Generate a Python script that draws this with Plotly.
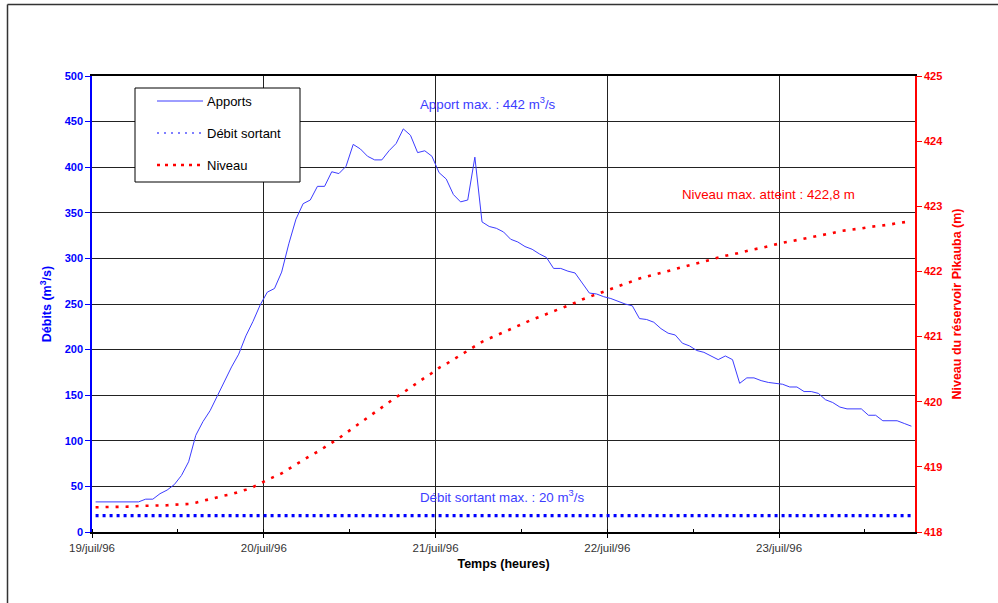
import pandas as pd
import plotly.graph_objects as go

# ---------------- data ----------------
start_time = "1996-07-19 00:30"
n_hours = 115
times = pd.date_range(start_time, periods=n_hours, freq="h")

apports = [
    33, 33, 33, 33, 33, 33, 33, 36, 36, 42,
    46, 52, 62, 77, 106, 121, 133, 149, 165, 181,
    195, 215, 231, 249, 263, 267, 285, 316, 343, 360,
    364, 379, 379, 395, 393, 401, 425, 420, 412, 408,
    408, 418, 426, 442, 435, 416, 418, 412, 394, 387,
    370, 362, 364, 411, 340, 335, 333, 329, 321, 318,
    313, 310, 305, 301, 289, 289, 286, 284, 273, 262,
    261, 258, 256, 253, 250, 248, 234, 233, 230, 223,
    218, 216, 207, 204, 199, 197, 193, 189, 193, 189,
    163, 169, 169, 166, 164, 163, 162, 159, 159, 154,
    154, 152, 145, 142, 137, 135, 135, 135, 128, 128,
    122, 122, 122, 119, 116,
]

debit_sortant_value = 18
debit_sortant = [debit_sortant_value] * n_hours

niveau = [
    418.38, 418.38, 418.38, 418.39, 418.39, 418.39, 418.40, 418.40, 418.40, 418.41,
    418.41, 418.42, 418.42, 418.43, 418.45, 418.48, 418.51, 418.54, 418.56, 418.58,
    418.61, 418.65, 418.69, 418.75, 418.80, 418.85, 418.90, 418.97, 419.04, 419.10,
    419.17, 419.23, 419.30, 419.36, 419.44, 419.52, 419.60, 419.67, 419.75, 419.84,
    419.92, 419.99, 420.07, 420.14, 420.22, 420.29, 420.37, 420.44, 420.52, 420.58,
    420.65, 420.72, 420.79, 420.86, 420.92, 420.97, 421.02, 421.07, 421.12, 421.17,
    421.22, 421.26, 421.30, 421.35, 421.39, 421.43, 421.47, 421.52, 421.57, 421.61,
    421.66, 421.70, 421.74, 421.78, 421.82, 421.85, 421.89, 421.92, 421.95, 421.98,
    422.01, 422.04, 422.07, 422.10, 422.13, 422.15, 422.18, 422.21, 422.24, 422.26,
    422.29, 422.31, 422.34, 422.36, 422.39, 422.41, 422.44, 422.46, 422.48, 422.51,
    422.53, 422.55, 422.57, 422.59, 422.62, 422.63, 422.65, 422.66, 422.68, 422.69,
    422.71, 422.72, 422.74, 422.75, 422.77,
]

day_ticks = ["1996-07-19", "1996-07-20", "1996-07-21", "1996-07-22", "1996-07-23"]
day_labels = ["19/juil/96", "20/juil/96", "21/juil/96", "22/juil/96", "23/juil/96"]
x_range = ["1996-07-19 00:00", "1996-07-23 19:00"]

legend_names = ["Apports", "Débit sortant", "Niveau"]

# ---------------- styles ----------------
FONT = "Arial, Liberation Sans, sans-serif"
BLUE = "#0000FF"
LBLUE = "#3C3CFF"
RED = "#FF0000"
GRID = "#222222"

fig = go.Figure()
fig.add_trace(go.Scatter(x=times, y=apports, mode="lines", name=legend_names[0],
                         line=dict(color=LBLUE, width=1), showlegend=False))
fig.add_trace(go.Scatter(x=times, y=debit_sortant, mode="lines", name=legend_names[1],
                         line=dict(color=BLUE, width=3.2, dash="3px,4px"), showlegend=False))
fig.add_trace(go.Scatter(x=times, y=niveau, mode="lines", name=legend_names[2], yaxis="y2",
                         line=dict(color=RED, width=2.6, dash="3px,7px"), showlegend=False))

L, R, T, B = 92, 83, 76, 71
W, H = 998, 603
pw, ph = W - L - R, H - T - B


def px(xp):
    return (xp - L) / pw


def py(yp):
    return (H - B - yp) / ph


shapes = []
annotations = []

# outer chart border (top and left)
shapes.append(dict(type="line", xref="paper", yref="paper", x0=px(7.5), x1=px(1005),
                   y0=py(4.5), y1=py(4.5), line=dict(color="#333333", width=1.5)))
shapes.append(dict(type="line", xref="paper", yref="paper", x0=px(7.5), x1=px(7.5),
                   y0=py(4.5), y1=py(610), line=dict(color="#333333", width=1.5)))

# white boxes behind annotation texts (hide gridlines)
for (x0, x1, y0, y1) in [(415, 579, 78, 128), (679, 896, 170, 221), (415, 618, 485, 509)]:
    shapes.append(dict(type="rect", xref="paper", yref="paper", layer="between",
                       x0=px(x0), x1=px(x1), y0=py(y1), y1=py(y0),
                       fillcolor="white", line=dict(width=0)))

ANN_SIZE = 13.3
annotations.append(dict(text="Apport max. : 442 m<sup>3</sup>/s", xref="paper", yref="paper",
                        x=px(418), y=py(104), xanchor="left", yanchor="middle", showarrow=False,
                        font=dict(family=FONT, size=ANN_SIZE, color=LBLUE)))
annotations.append(dict(text="Niveau max. atteint : 422,8 m", xref="paper", yref="paper",
                        x=px(679.5), y=py(194), xanchor="left", yanchor="middle", showarrow=False,
                        font=dict(family=FONT, size=ANN_SIZE, color=RED)))
annotations.append(dict(text="Débit sortant max. : 20 m<sup>3</sup>/s", xref="paper", yref="paper",
                        x=px(418), y=py(496), xanchor="left", yanchor="middle", showarrow=False,
                        font=dict(family=FONT, size=ANN_SIZE, color=LBLUE)))

# manual legend
shapes.append(dict(type="rect", xref="paper", yref="paper", x0=px(135), x1=px(300),
                   y0=py(182), y1=py(88), fillcolor="white", line=dict(color="black", width=1)))
legend_rows = [101, 133, 165]
legend_styles = [dict(color=LBLUE, width=1), dict(color=BLUE, width=1.2, dash="2px,5px"),
                 dict(color=RED, width=2.5, dash="3px,5px")]
for name, yrow, st in zip(legend_names, legend_rows, legend_styles):
    shapes.append(dict(type="line", xref="paper", yref="paper", x0=px(157), x1=px(203),
                       y0=py(yrow), y1=py(yrow), line=st))
    annotations.append(dict(text=name, xref="paper", yref="paper", x=px(204.5), y=py(yrow),
                            xanchor="left", yanchor="middle", showarrow=False,
                            font=dict(family=FONT, size=13, color="black")))

fig.update_layout(
    width=W, height=H,
    margin=dict(l=L, r=R, t=T, b=B, pad=0),
    paper_bgcolor="white", plot_bgcolor="white",
    showlegend=False, hovermode=False,
    font=dict(family=FONT),
    shapes=shapes, annotations=annotations,
    xaxis=dict(
        type="date", range=x_range,
        tickvals=day_ticks, ticktext=day_labels,
        tickfont=dict(family=FONT, size=11.5, color="#333333"),
        showgrid=True, gridcolor=GRID, gridwidth=1,
        showline=True, linecolor="black", linewidth=1.5, mirror=True,
        ticks="outside", ticklen=4, tickcolor="black",
        minor=dict(dtick=12 * 3600 * 1000, ticks="inside", ticklen=3, tickcolor="black", showgrid=False),
        zeroline=False,
        title=dict(text="<b>Temps (heures)</b>", font=dict(family=FONT, size=12.5, color="black"), standoff=7),
    ),
    yaxis=dict(
        range=[0, 500], dtick=50,
        tickfont=dict(family=FONT, size=11, color=BLUE, weight="bold"),
        showgrid=True, gridcolor=GRID, gridwidth=1,
        showline=True, linecolor=BLUE, linewidth=1.5,
        ticks="outside", ticklen=5, tickcolor=BLUE,
        zeroline=False,
        title=dict(text="<b>Débits (m<sup>3</sup>/s)</b>", font=dict(family=FONT, size=12.5, color=BLUE), standoff=10),
    ),
    yaxis2=dict(
        range=[418, 425], dtick=1, overlaying="y", side="right",
        tickfont=dict(family=FONT, size=11, color=RED, weight="bold"),
        showgrid=False,
        showline=True, linecolor=RED, linewidth=1.5,
        ticks="outside", ticklen=5, tickcolor=RED,
        zeroline=False,
        title=dict(text="<b>Niveau du réservoir Pikauba (m)</b>", font=dict(family=FONT, size=12.5, color=RED), standoff=10),
    ),
)

fig.write_html("out.html", config={"displayModeBar": False},
               post_script="document.body.style.margin='0px';")
